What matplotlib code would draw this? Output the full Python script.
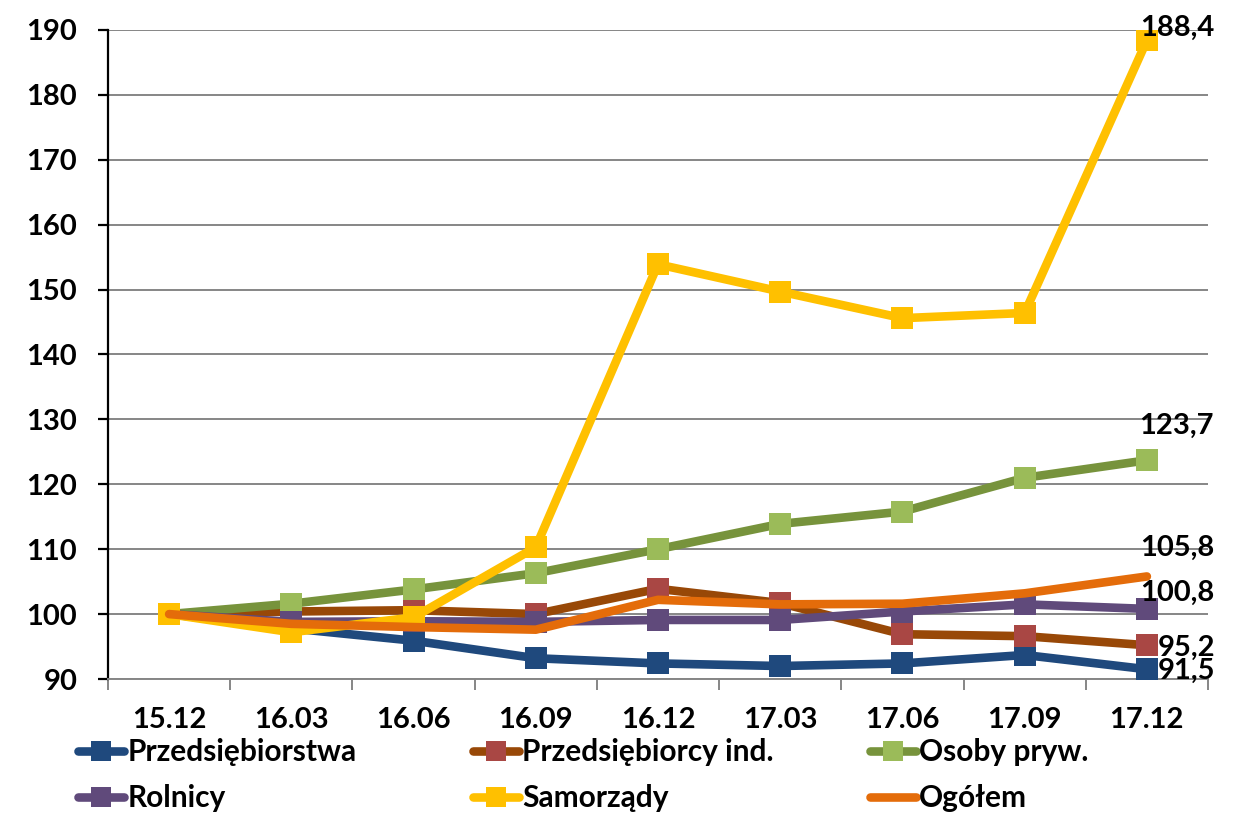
import matplotlib
matplotlib.use("Agg")
import matplotlib.pyplot as plt
from matplotlib.lines import Line2D
import numpy as np

plt.rcParams['font.family'] = ['Lato', 'DejaVu Sans']
plt.rcParams['font.weight'] = 'bold'

periods = ["15.12", "16.03", "16.06", "16.09", "16.12", "17.03", "17.06", "17.09", "17.12"]

przedsiebiorstwa = [100.0, 97.8, 95.9, 93.2, 92.4, 92.0, 92.4, 93.7, 91.5]
przedsiebiorcy_ind = [100.0, 100.4, 100.6, 100.0, 103.9, 101.7, 96.9, 96.6, 95.2]
osoby_pryw = [100.0, 101.6, 103.8, 106.3, 110.0, 113.9, 115.8, 121.0, 123.7]
rolnicy = [100.0, 98.8, 98.9, 98.8, 99.1, 99.1, 100.4, 101.5, 100.8]
samorzady = [100.0, 97.2, 99.5, 110.3, 153.9, 149.7, 145.6, 146.4, 188.4]
ogolem = [100.0, 98.5, 98.0, 97.6, 102.2, 101.5, 101.6, 103.2, 105.8]

series = [
    # name, values, line colour, marker colour, marker
    ("Przedsiębiorstwa", przedsiebiorstwa, "#1F497D", "#1F497D", "s"),
    ("Przedsiębiorcy ind.", przedsiebiorcy_ind, "#984807", "#A94744", "s"),
    ("Osoby pryw.", osoby_pryw, "#77933C", "#9BBB59", "s"),
    ("Rolnicy", rolnicy, "#604A7B", "#604A7B", "s"),
    ("Samorządy", samorzady, "#FFC000", "#FFC000", "s"),
    ("Ogółem", ogolem, "#E46C0A", "#E46C0A", None),
]

FS = 21
FS_LEG = 21.5
W, H = 1238, 815
fig = plt.figure(figsize=(W / 100, H / 100), dpi=100)
ax = fig.add_axes([108 / W, 1 - 679 / H, (1208 - 108) / W, (679 - 30) / H])

x = np.arange(len(periods))
handles = []
for name, vals, lc, mc, mk in series:
    ax.plot(x, vals, color=lc, lw=6.2, marker=mk, markersize=15.5,
            markerfacecolor=mc, markeredgecolor=mc, markeredgewidth=0,
            solid_capstyle='round', solid_joinstyle='round', zorder=3)
    handles.append(Line2D([0], [0], color=lc, lw=6.2, marker=mk, markersize=14.5,
                          markerfacecolor=mc, markeredgewidth=0,
                          solid_capstyle='round'))

ax.set_xlim(-0.5, len(periods) - 0.5)
ax.set_ylim(90, 190)
ax.set_yticks(np.arange(90, 191, 10))
ax.yaxis.grid(True, color="#868686", lw=1.4)
ax.set_axisbelow(True)

# category boundaries carry the tick marks, labels sit at the centres
ax.set_xticks(np.arange(-0.5, len(periods)), labels=[""] * (len(periods) + 1))
ax.set_xticks(x, labels=periods, minor=True)
ax.tick_params(axis='x', which='major', length=8, width=1.4, color="#868686", direction='out')
ax.tick_params(axis='x', which='minor', length=0, pad=20.5, labelsize=FS)
ax.tick_params(axis='y', length=7.2, width=1.6, color="black", direction='out', pad=15, labelsize=FS)

for s in ["top", "right"]:
    ax.spines[s].set_visible(False)
ax.spines["left"].set_color("black")
ax.spines["left"].set_linewidth(1.6)
ax.spines["bottom"].set_color("#868686")
ax.spines["bottom"].set_linewidth(1.4)

# end-of-series value labels
last = len(periods) - 1
labels = [
    (samorzady[last], (30, 13), 'center'),
    (osoby_pryw[last], (30, 34), 'center'),
    (ogolem[last], (30, 29), 'center'),
    (rolnicy[last], (30, 16), 'center'),
    (przedsiebiorcy_ind[last], (11, -3), 'left'),
    (przedsiebiorstwa[last], (11, -2), 'left'),
]
for v, off, ha in labels:
    ax.annotate(f"{v:.1f}".replace(".", ","), (last, v), xytext=off,
                textcoords='offset pixels', ha=ha, va='center',
                fontsize=FS, fontweight='bold', zorder=5, annotation_clip=False)

# legend: three columns, two rows below the axes
col_x = [78, 473, 870]
row_y = [752, 798]
for i, (name, *_rest) in enumerate(series):
    cx = col_x[i % 3]
    cy = row_y[i // 3]
    fig.legend([handles[i]], [name], loc='center left',
               bbox_to_anchor=(cx / W, 1 - cy / H),
               frameon=False, fontsize=FS_LEG, handlelength=1.55, handletextpad=0.1,
               borderpad=0, borderaxespad=0)

fig.savefig("out.png", dpi=100, facecolor="white")
